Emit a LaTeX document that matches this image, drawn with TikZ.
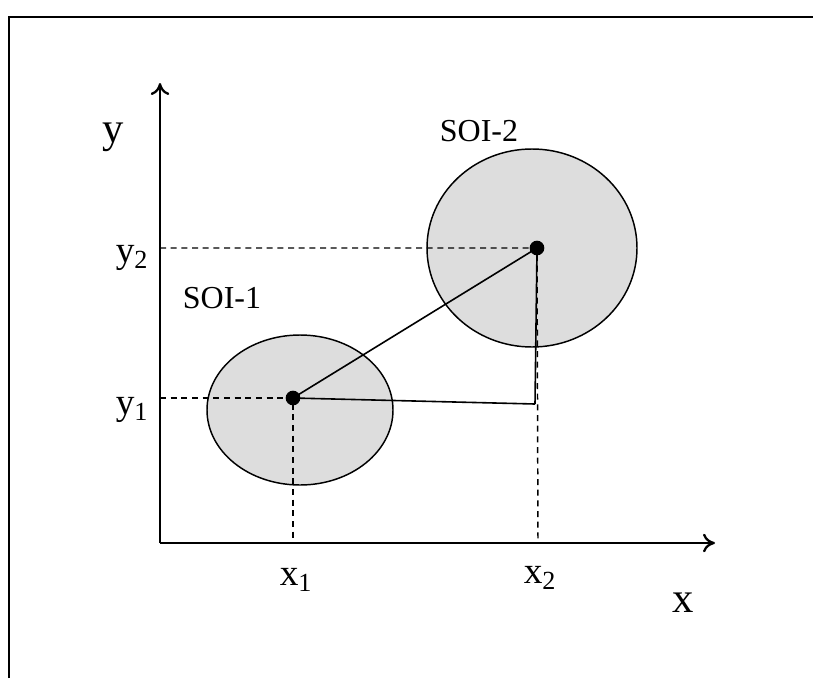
\documentclass[tikz,border=0pt]{standalone}
\usepackage{fontspec}
\setmainfont{Liberation Serif}
\usetikzlibrary{arrows.meta, shapes.geometric}
\definecolor{soigray}{RGB}{221, 221, 221}

\begin{document}
\begin{tikzpicture}[x=0.75pt, y=-0.75pt,
  soi/.style={draw, fill=soigray, ellipse, line width=1.1pt, inner sep=0pt},
  dot/.style={circle, fill=black, inner sep=0pt, minimum size=11pt},
  guide/.style={dash pattern=on 4.5pt off 3.5pt, line width=1.1pt},
  bigfont/.style={font=\fontsize{32}{34}\selectfont},
  tickfont/.style={font=\fontsize{28}{30}\selectfont},
  soifont/.style={font=\fontsize{24}{26}\selectfont}]
  \useasboundingbox (0,0) rectangle (813,678);

  % Frame
  \draw[line width=1.9pt] (9,678) -- (9,17) -- (813,17);

  % Spheres of interest
  \node[soi, minimum width=139.5pt, minimum height=112.5pt] (soi1) at (300,410) {};
  \node[soi, minimum width=157.5pt, minimum height=148.5pt] (soi2) at (532,248) {};
  \node[soifont] (soi1lbl) at (222,298) {SOI-1};
  \node[soifont] (soi2lbl) at (479,131) {SOI-2};

  % Axes
  \coordinate (o) at (160,543);
  \coordinate (xtip) at (715,543);
  \coordinate (ytip) at (160,83);
  \draw[line width=1.7pt, -{To[length=9pt, width=14pt]}] (o) -- (xtip);
  \draw[line width=1.7pt, -{To[length=9pt, width=14pt]}] (o) -- (ytip);
  \node[bigfont] (xlbl) at (683,603) {x};
  \node[bigfont] (ylbl) at (113,137) {y};

  % Centres
  \coordinate (p1) at (293,398);
  \coordinate (p2) at (537,248);
  \coordinate (c) at (535,404);
  \coordinate (x1) at (293,543);
  \coordinate (x2) at (538,543);
  \coordinate (y1) at (160,398);
  \coordinate (y2) at (160,248);

  % Projections
  \draw[guide] (y1) -- (p1) -- (x1);
  \draw[guide] (y2) -- (p2) -- (x2);
  \node[tickfont] (x1lbl) at (296,580) {x\textsubscript{1}};
  \node[tickfont] (x2lbl) at (540,578) {x\textsubscript{2}};
  \node[tickfont] (y1lbl) at (132,410) {y\textsubscript{1}};
  \node[tickfont] (y2lbl) at (132,258) {y\textsubscript{2}};

  % Distance and its components
  \draw[line width=1.2pt] (p1) -- (p2);
  \draw[line width=1.2pt] (p1) -- (c);
  \draw[line width=1.2pt] (p2) -- (c);
  \node[dot] (dot1) at (p1) {};
  \node[dot] (dot2) at (p2) {};
\end{tikzpicture}
\end{document}
